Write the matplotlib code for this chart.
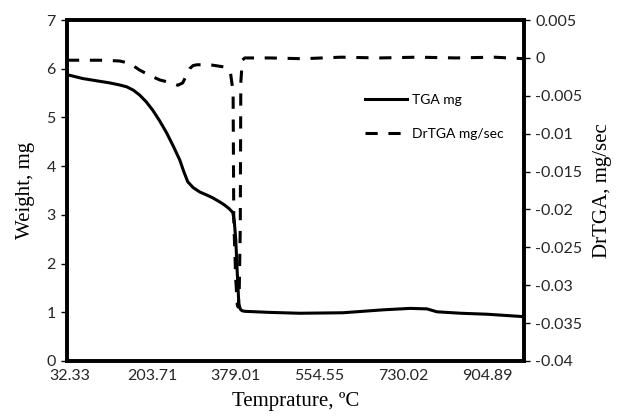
import matplotlib
matplotlib.use('Agg')
import matplotlib.pyplot as plt

# TGA curve (weight, mg)
tgaTemp = [26, 58.7, 90, 115.3, 135, 150.9, 165, 178.1, 192, 205.4, 220, 234.7, 248, 261.9,
           270, 278.7, 290, 303.8, 318, 331, 345, 356, 365, 372.9, 376, 379.2, 382.3, 385.5,
           387.5, 389.7, 393, 398, 444, 477.6, 513, 603, 687, 744, 779, 800, 850, 905, 982]
tgaWeight = [5.88, 5.80, 5.75, 5.71, 5.67, 5.63, 5.56, 5.46, 5.32, 5.15, 4.93, 4.68, 4.42, 4.13,
             3.90, 3.68, 3.56, 3.47, 3.41, 3.35, 3.27, 3.20, 3.13, 3.05, 2.88, 2.48, 1.81, 1.19,
             1.10, 1.05, 1.03, 1.02, 1.0, 0.99, 0.98, 0.99, 1.05, 1.08, 1.07, 1.01, 0.98, 0.96, 0.91]

# DrTGA curve (mg/sec)
drTemp = [26, 95, 136, 157, 178, 199, 220, 245, 258, 268, 276, 283, 290, 298, 325, 356, 368,
          373.6, 375, 379.2, 382.4, 384.5, 386.5, 388.6, 389.7, 392.8, 398,
          450, 520, 600, 680, 760, 840, 920, 982]
drRate = [-0.0003, -0.0003, -0.0004, -0.0007, -0.0016, -0.0023, -0.0029, -0.0033, -0.0036,
          -0.0033, -0.0023, -0.0014, -0.0010, -0.0009, -0.0009, -0.0012, -0.0019,
          -0.0045, -0.0214, -0.0293, -0.0326, -0.0329, -0.0306, -0.0223, -0.0033, -0.0003, 0.0,
          0.0, -0.0001, 0.0001, 0.0, 0.0001, 0.0, 0.0001, -0.0001]

xLabels = [32.33, 203.71, 379.01, 554.55, 730.02, 904.89]
xTickMarks = [32.33, 379.01, 730.02]
leftTicks = [0, 1, 2, 3, 4, 5, 6, 7]
rightTicks = [0.005, 0, -0.005, -0.01, -0.015, -0.02, -0.025, -0.03, -0.035, -0.04]

tickFont = 'Lato'
labelFont = 'Liberation Serif'
tickColor = '#262626'

fig = plt.figure(figsize=(6.2, 4.18), dpi=100)
ax = fig.add_axes([0.108, 0.1364, 0.737, 0.8156])
ax2 = ax.twinx()

l1, = ax.plot(tgaTemp, tgaWeight, color='black', lw=2.2, label='TGA mg')
l2, = ax2.plot(drTemp, drRate, color='black', lw=2.2, dashes=(4, 3.5), label='DrTGA mg/sec')

ax.set_xlim(26, 982)
ax.set_ylim(0, 7)
ax2.set_ylim(-0.04, 0.005)

ax.set_xticks(xLabels)
ax.set_xticklabels(['%.2f' % v for v in xLabels], fontsize=11.5, family=tickFont, color=tickColor)
ax.tick_params(axis='x', which='major', length=0, pad=6)
ax.set_xticks(xTickMarks, minor=True)
ax.tick_params(axis='x', which='minor', direction='in', length=4, width=1)

ax.set_yticks(leftTicks)
ax.set_yticklabels([str(v) for v in leftTicks], fontsize=11.5, family=tickFont, color=tickColor)
ax.tick_params(axis='y', direction='out', length=4, width=1, pad=4)

ax2.set_yticks(rightTicks)
ax2.set_yticklabels(['%g' % v for v in rightTicks], fontsize=11.5, family=tickFont, color=tickColor)
ax2.tick_params(axis='y', direction='out', length=4, width=1, pad=4)

for a in (ax, ax2):
    for s in a.spines.values():
        s.set_linewidth(2.6)

ax.set_xlabel('Temprature, ºC', fontsize=15, family=labelFont, labelpad=6)
ax.set_ylabel('Weight, mg', fontsize=15, family=labelFont, labelpad=8)
ax2.set_ylabel('DrTGA, mg/sec', fontsize=15, family=labelFont, labelpad=8)

leg = ax2.legend(handles=[l1, l2], loc='upper left', bbox_to_anchor=(0.625, 0.82),
                 frameon=False, handlelength=3.0, labelspacing=1.6, handletextpad=0.4,
                 prop={'family': tickFont, 'size': 10})

fig.savefig('out.png', dpi=100)
